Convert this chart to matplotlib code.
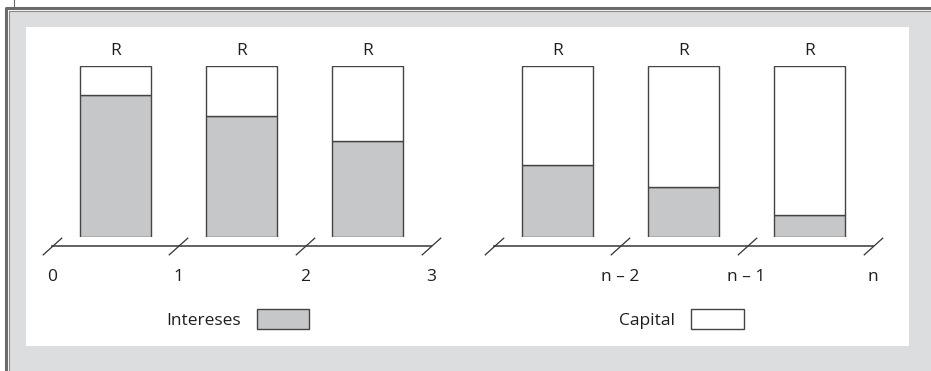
import matplotlib
matplotlib.use('Agg')
import matplotlib.pyplot as plt
from matplotlib.patches import Rectangle, Patch
from matplotlib.lines import Line2D
from matplotlib.path import Path

plt.rcParams['font.family'] = ['Open Sans', 'DejaVu Sans']

# datos: fraccion de intereses en cada pago R
intereses_ini = [0.83, 0.708, 0.561]
intereses_fin = [0.421, 0.292, 0.129]
etiquetas_ini = ['0', '1', '2', '3']
etiquetas_fin = ['', 'n \u2013 2', 'n \u2013 1', 'n']
periodos = [0, 1, 2, 3]

gris = '#c6c7c9'
borde = '#444444'
texto = '#1e1e1e'
fs = 12.5

W, H = 931, 371
fig = plt.figure(figsize=(W / 100, H / 100), dpi=100)

def px(x0, y0, w, h):
    # caja en pixeles (origen arriba-izquierda) -> fraccion de figura
    return (x0 / W, 1 - (y0 + h) / H, w / W, h / H)

def caja(x0, y0, w, h, color, z):
    l, b, ww, hh = px(x0, y0, w, h)
    fig.patches.append(Rectangle((l, b), ww, hh, transform=fig.transFigure,
                                 facecolor=color, edgecolor='none', zorder=z))

# marco de fondo
caja(9, 11, W - 9, H - 11, '#dcdddf', -3)
caja(26, 27, 883, 319, 'white', -2)
fig.lines.append(Line2D([5.5 / W, 5.5 / W, 1], [0, 1 - 8 / H, 1 - 8 / H],
                        transform=fig.transFigure, color='#6b6b6b', lw=2.2, zorder=-1))
fig.lines.append(Line2D([8.5 / W, 8.5 / W, 1], [0, 1 - 11 / H, 1 - 11 / H],
                        transform=fig.transFigure, color='#8a8a8a', lw=0.8, zorder=-1))
fig.lines.append(Line2D([13.5 / W, 13.5 / W], [1 - 7 / H, 1],
                        transform=fig.transFigure, color='#6b6b6b', lw=0.8, zorder=-1))

slash = Path([(-1, -0.9), (1, 0.9)], [Path.MOVETO, Path.LINETO])

def grupo(x0, intereses, etiquetas, leyenda, lx, color_ley):
    ax = fig.add_axes(px(x0, 66, 379, 171))
    ax.set_xlim(0, 3)
    ax.set_ylim(0, 1)
    ax.axis('off')
    centros = [p + 0.5 for p in periodos[:-1]]
    capital = [1 - v for v in intereses]
    ax.bar(centros, intereses, width=0.562, color=gris, edgecolor=borde, lw=1, zorder=3)
    ax.bar(centros, capital, bottom=intereses, width=0.562, color='white',
           edgecolor=borde, lw=1, zorder=3)
    for c in centros:
        ax.annotate('R', (c, 1), xytext=(0, 11), textcoords='offset points',
                    ha='center', va='center', fontsize=fs, color=texto)
    ylin = -9 / 171
    ax.plot([periodos[0], periodos[-1]], [ylin, ylin], color='#555555', lw=1.3,
            clip_on=False, zorder=2)
    ax.plot(periodos, [ylin] * len(periodos), ls='none', marker=slash, ms=14,
            mew=0.9, color='#333333', clip_on=False, zorder=2)
    for p, e in zip(periodos, etiquetas):
        ax.annotate(e, (p, 0), xytext=(0, -29), textcoords='offset points',
                    ha='center', va='center', fontsize=fs, color=texto)
    h = Patch(facecolor=color_ley, edgecolor=borde, lw=1)
    lg = ax.legend([h], [leyenda], loc='center', bbox_to_anchor=(lx / W, 1 - 319 / H),
                   bbox_transform=fig.transFigure, frameon=False, markerfirst=False,
                   handlelength=3.0, handleheight=1.4, handletextpad=0.92,
                   prop={'size': fs})
    for t in lg.get_texts():
        t.set_color(texto)
    return ax

grupo(52, intereses_ini, etiquetas_ini, 'Intereses', 237.5, gris)
grupo(494, intereses_fin, etiquetas_fin, 'Capital', 681.5, 'white')

fig.savefig('out.png', dpi=100)
